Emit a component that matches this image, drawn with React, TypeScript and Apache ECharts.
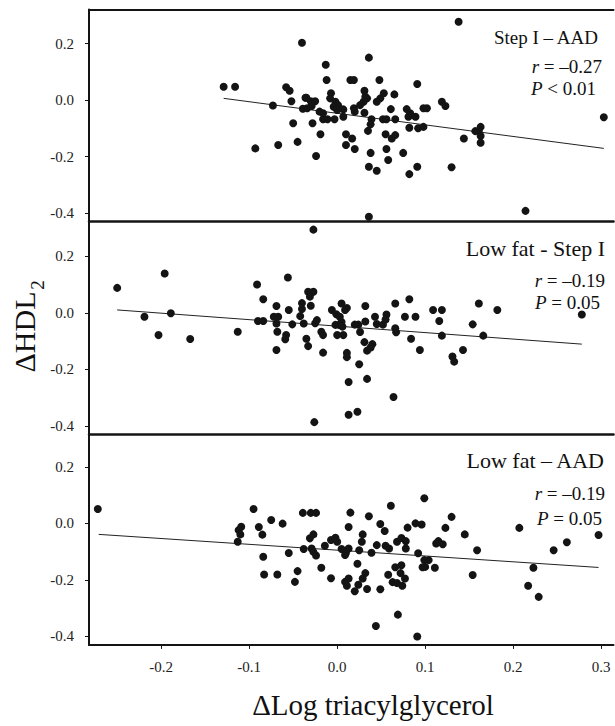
import React, { useEffect, useRef } from "react";
import * as echarts from "echarts";

// ---------- data ----------
const xTicks = [-0.2, -0.1, 0, 0.1, 0.2, 0.3];
const yTicks = [-0.4, -0.2, 0, 0.2];

const stepIAAD: number[][] = [
  [-0.129, 0.047], [-0.116, 0.047], [-0.058, 0.045], [-0.054, 0.033], [-0.04, 0.203], [-0.073, -0.019], [-0.052, -0.004],
  [-0.036, 0.008], [-0.039, -0.031], [-0.05, -0.082], [-0.093, -0.171], [-0.067, -0.159], [-0.045, -0.148],
  [0.036, 0.15], [-0.013, 0.125], [-0.012, 0.071], [0.015, 0.071], [0.019, 0.071], [0.048, 0.071], [0.031, 0.033],
  [0.065, 0.02], [0.053, 0.024], [0.049, 0.006], [0.045, -0.006], [-0.007, 0.024], [0.034, 0.006], [0.03, -0.006],
  [0.026, -0.018], [-0.03, -0.004], [-0.025, -0.004], [-0.029, -0.021], [-0.02, -0.041], [-0.016, -0.047], [-0.008, 0.006],
  [-0.002, -0.006], [0.001, -0.018], [-0.004, -0.024], [0.0, -0.035], [0.007, -0.033], [0.019, -0.029], [0.02, -0.041],
  [0.031, -0.045], [0.061, -0.032], [0.079, -0.032], [0.081, -0.059], [0.007, -0.059], [-0.016, -0.068], [-0.011, -0.068],
  [-0.003, -0.068], [0.039, -0.068], [0.038, -0.086], [0.052, -0.068], [0.056, -0.068], [0.066, -0.068], [-0.028, -0.082],
  [0.035, -0.109], [-0.019, -0.121], [0.01, -0.121], [0.017, -0.136], [0.055, -0.121], [0.062, -0.136], [0.066, -0.124],
  [0.01, -0.159], [0.02, -0.173], [0.056, -0.173], [0.038, -0.187], [0.075, -0.187], [-0.024, -0.198], [0.058, -0.212],
  [0.036, -0.236], [0.045, -0.25], [0.082, -0.262], [0.036, -0.413], [0.138, 0.277], [0.091, 0.057], [-0.035, 0.008],
  [0.098, -0.029], [0.102, -0.029], [0.119, -0.006], [0.123, -0.021], [0.089, -0.059], [0.092, -0.1], [0.098, -0.095],
  [0.144, -0.136], [0.163, -0.095], [0.161, -0.109], [0.163, -0.127], [0.163, -0.151], [0.157, -0.11], [0.303, -0.061],
  [0.091, -0.236], [0.13, -0.238], [0.214, -0.392], [-0.034, -0.029], [0.083, -0.047], [0.082, -0.098], [0.032, 0.012],
];

const lowFatStepI: number[][] = [
  [-0.25, 0.088], [-0.196, 0.139], [-0.219, -0.014], [-0.189, -0.002], [-0.203, -0.079], [-0.167, -0.093], [-0.113, -0.067],
  [-0.091, 0.1], [-0.084, 0.048], [-0.056, 0.125], [-0.09, -0.029], [-0.084, -0.029], [-0.069, 0.024], [-0.055, 0.01],
  [-0.072, -0.014], [-0.067, -0.014], [-0.069, -0.038], [-0.068, -0.067], [-0.051, -0.041], [-0.069, -0.132], [-0.058, -0.079],
  [-0.059, -0.094], [-0.04, 0.034], [-0.04, 0.013], [-0.042, -0.012], [-0.033, 0.074], [-0.027, 0.074], [-0.031, 0.057],
  [-0.03, 0.025], [-0.038, -0.038], [-0.035, -0.092], [-0.033, -0.118], [-0.027, 0.294], [-0.025, -0.037], [-0.023, -0.026],
  [-0.018, -0.067], [-0.016, -0.079], [-0.016, -0.141], [-0.006, 0.01], [-0.001, -0.005], [0.005, 0.033], [0.009, 0.01],
  [0.011, 0.017], [0.003, -0.014], [0.005, -0.033], [-0.002, -0.043], [0.002, -0.043], [0.006, -0.049], [0.0, -0.079],
  [0.007, -0.079], [0.02, -0.042], [0.024, -0.042], [0.026, -0.068], [0.032, -0.031], [0.032, 0.024], [0.043, -0.014],
  [0.045, -0.04], [0.052, -0.042], [0.056, -0.006], [0.055, -0.024], [0.066, 0.033], [0.066, -0.055], [0.067, -0.069],
  [0.077, -0.014], [0.082, 0.048], [0.084, -0.092], [0.031, -0.104], [0.034, -0.134], [0.04, -0.111], [0.038, -0.123],
  [0.011, -0.142], [0.011, -0.157], [0.025, -0.182], [0.013, -0.245], [0.034, -0.234], [0.064, -0.298], [0.013, -0.361],
  [0.023, -0.35], [-0.026, -0.387], [0.089, -0.014], [0.109, 0.01], [0.119, 0.01], [0.116, -0.029], [0.119, -0.081],
  [0.131, -0.155], [0.133, -0.173], [0.143, -0.132], [0.161, 0.033], [0.154, -0.041], [0.166, -0.081], [0.182, 0.01],
  [0.278, -0.006], [0.094, -0.132],
];

const lowFatAAD: number[][] = [
  [-0.272, 0.051], [-0.095, 0.051], [-0.109, -0.012], [-0.112, -0.024], [-0.11, -0.039], [-0.113, -0.065], [-0.089, -0.013],
  [-0.085, -0.04], [-0.075, 0.012], [-0.062, -0.001], [-0.039, 0.037], [-0.03, 0.037], [-0.024, 0.037], [-0.084, -0.118],
  [-0.055, -0.105], [-0.038, -0.091], [-0.029, -0.089], [-0.027, -0.101], [-0.024, -0.114], [-0.031, -0.053], [-0.027, -0.039],
  [-0.083, -0.181], [-0.068, -0.181], [-0.045, -0.169], [-0.048, -0.207], [-0.018, -0.157], [-0.014, -0.079], [-0.007, -0.059],
  [-0.002, -0.051], [0.0, -0.065], [-0.007, -0.194], [0.005, -0.091], [0.009, -0.112], [0.013, -0.089], [0.01, -0.104],
  [0.013, -0.013], [0.015, 0.038], [0.009, -0.207], [0.013, -0.195], [0.011, -0.221], [0.02, -0.24], [0.024, -0.217],
  [0.023, -0.143], [0.025, -0.095], [0.028, -0.065], [0.029, -0.039], [0.032, -0.176], [0.029, -0.195], [0.036, 0.025],
  [0.034, -0.232], [0.039, -0.104], [0.045, -0.077], [0.049, -0.233], [0.049, -0.002], [0.054, -0.027], [0.055, -0.079],
  [0.059, -0.089], [0.061, 0.062], [0.058, -0.182], [0.063, -0.208], [0.068, -0.211], [0.066, -0.155], [0.073, -0.148],
  [0.072, -0.176], [0.077, -0.195], [0.074, -0.221], [0.068, -0.065], [0.073, -0.052], [0.078, -0.063], [0.078, -0.089],
  [0.08, -0.015], [0.069, -0.323], [0.044, -0.363], [0.089, 0.0], [0.096, -0.004], [0.099, 0.089], [0.092, -0.106],
  [0.099, -0.13], [0.1, -0.154], [0.104, -0.13], [0.097, -0.155], [0.111, -0.157], [0.1125, -0.071], [0.115, -0.063],
  [0.12, -0.074], [0.123, -0.016], [0.13, 0.023], [0.145, -0.039], [0.159, -0.095], [0.154, -0.183], [0.091, -0.4],
  [0.207, -0.016], [0.223, -0.157], [0.217, -0.221], [0.229, -0.26], [0.246, -0.095], [0.261, -0.067], [0.297, -0.041],
];

const trendStepIAAD = [[-0.129, 0.006], [0.303, -0.171]];
const trendLowFatStepI = [[-0.25, 0.01], [0.278, -0.111]];
const trendLowFatAAD = [[-0.271, -0.039], [0.297, -0.156]];

const panelTitles = ["Step I – AAD", "Low fat - Step I", "Low fat – AAD"];
const rValues = ["–0.27", "–0.19", "–0.19"];
const pValues = ["< 0.01", "= 0.05", "= 0.05"];

const xAxisTitle = "ΔLog triacylglycerol";
const yAxisTitle = "ΔHDL";
const yAxisSub = "2";

// ---------- layout ----------
const FONT = '"Liberation Serif", "Times New Roman", "DejaVu Serif", serif';
const INK = "#141414";
const gridLeft = 89;
const gridWidth = 524.5;
const gridTops = [9.6, 222.3, 432.9];
const gridH = 212;
const X_MIN = -0.282, X_MAX = 0.314;
const Y_MIN = -0.43, Y_MAX = 0.32;

const panels = [
  { pts: stepIAAD, trend: trendStepIAAD },
  { pts: lowFatStepI, trend: trendLowFatStepI },
  { pts: lowFatAAD, trend: trendLowFatAAD },
];

// annotation placement (right edge x, centre y)
const annot = [
  { tx: 598, ty: 37, tfs: 19, rx: 602, ry: 66, px: 596, py: 88 },
  { tx: 605, ty: 248, tfs: 22, rx: 605, ry: 280, px: 600, py: 302 },
  { tx: 604, ty: 460, tfs: 22, rx: 605, ry: 493, px: 602, py: 518 },
];

export default function App() {
  const ref = useRef<HTMLDivElement>(null);
  useEffect(() => {
    if (!ref.current) return;
    const chart = echarts.init(ref.current, null, { renderer: "svg" });

    const grids = gridTops.map((t) => ({ left: gridLeft, top: t, width: gridWidth, height: gridH }));

    const xAxes: any[] = panels.map((_, i) => ({
      type: "value",
      gridIndex: i,
      min: X_MIN,
      max: X_MAX,
      position: "bottom",
      splitLine: { show: false },
      axisLine: { show: true, onZero: false, lineStyle: { color: INK, width: i === 2 ? 2 : 2.5 } },
      axisTick: {
        show: i === 2,
        customValues: xTicks,
        length: 4,
        lineStyle: { color: INK, width: 1 },
      },
      axisLabel: {
        show: i === 2,
        customValues: xTicks,
        margin: 15,
        color: "#222",
        fontFamily: FONT,
        fontSize: 15,
        formatter: (v: number) => v.toFixed(1),
      },
    }));
    // top border of the first panel
    xAxes.push({
      type: "value",
      gridIndex: 0,
      min: X_MIN,
      max: X_MAX,
      position: "top",
      splitLine: { show: false },
      axisLine: { show: true, onZero: false, lineStyle: { color: INK, width: 2 } },
      axisTick: { show: false },
      axisLabel: { show: false },
    });

    const yAxes = panels.map((_, i) => ({
      type: "value",
      gridIndex: i,
      min: Y_MIN,
      max: Y_MAX,
      splitLine: { show: false },
      axisLine: { show: true, onZero: false, lineStyle: { color: INK, width: 2 } },
      axisTick: { show: true, customValues: yTicks, length: 4, lineStyle: { color: INK, width: 1 } },
      axisLabel: {
        show: true,
        customValues: yTicks,
        margin: 15,
        color: "#222",
        fontFamily: FONT,
        fontSize: 15,
        formatter: (v: number) => v.toFixed(1),
      },
    }));

    const series: any[] = [];
    panels.forEach((p, i) => {
      series.push({
        type: "scatter",
        xAxisIndex: i,
        yAxisIndex: i,
        data: p.pts,
        symbol: "circle",
        symbolSize: 8,
        itemStyle: { color: INK, opacity: 1 },
        silent: true,
        z: 3,
      });
      series.push({
        type: "line",
        xAxisIndex: i,
        yAxisIndex: i,
        data: p.trend,
        showSymbol: false,
        symbol: "none",
        lineStyle: { color: "#222", width: 1 },
        silent: true,
        z: 2,
      });
    });

    const graphics: any[] = [];
    annot.forEach((a, i) => {
      graphics.push({
        type: "text",
        x: a.tx,
        y: a.ty,
        style: {
          text: panelTitles[i],
          fontFamily: FONT,
          fontSize: a.tfs,
          fill: "#111",
          align: "right",
          verticalAlign: "middle",
        },
      });
      graphics.push({
        type: "text",
        x: a.rx,
        y: a.ry,
        style: {
          text: "{i|r} = " + rValues[i],
          fontFamily: FONT,
          fontSize: 19,
          fill: "#111",
          align: "right",
          verticalAlign: "middle",
          rich: { i: { fontFamily: FONT, fontSize: 19, fontStyle: "italic", fill: "#111" } },
        },
      });
      graphics.push({
        type: "text",
        x: a.px,
        y: a.py,
        style: {
          text: "{i|P} " + pValues[i],
          fontFamily: FONT,
          fontSize: 19,
          fill: "#111",
          align: "right",
          verticalAlign: "middle",
          rich: { i: { fontFamily: FONT, fontSize: 19, fontStyle: "italic", fill: "#111" } },
        },
      });
    });
    // axis titles
    graphics.push({
      type: "text",
      x: 24,
      y: 332,
      rotation: Math.PI / 2,
      style: {
        text: yAxisTitle,
        fontFamily: FONT,
        fontSize: 30,
        fill: "#111",
        align: "center",
        verticalAlign: "middle",
      },
    });
    graphics.push({
      type: "text",
      x: 37,
      y: 285,
      rotation: Math.PI / 2,
      style: {
        text: yAxisSub,
        fontFamily: FONT,
        fontSize: 19,
        fill: "#111",
        align: "center",
        verticalAlign: "middle",
      },
    });
    graphics.push({
      type: "text",
      x: 373,
      y: 705,
      style: {
        text: xAxisTitle,
        fontFamily: FONT,
        fontSize: 29,
        fill: "#111",
        align: "center",
        verticalAlign: "middle",
      },
    });

    chart.setOption({
      animation: false,
      backgroundColor: "#fff",
      grid: grids,
      xAxis: xAxes,
      yAxis: yAxes,
      series,
      graphic: graphics,
    });
    return () => chart.dispose();
  }, []);

  return (
    <div
      ref={ref}
      style={{ position: "absolute", left: 0, top: 0, width: 615, height: 726, background: "#fff" }}
    />
  );
}
